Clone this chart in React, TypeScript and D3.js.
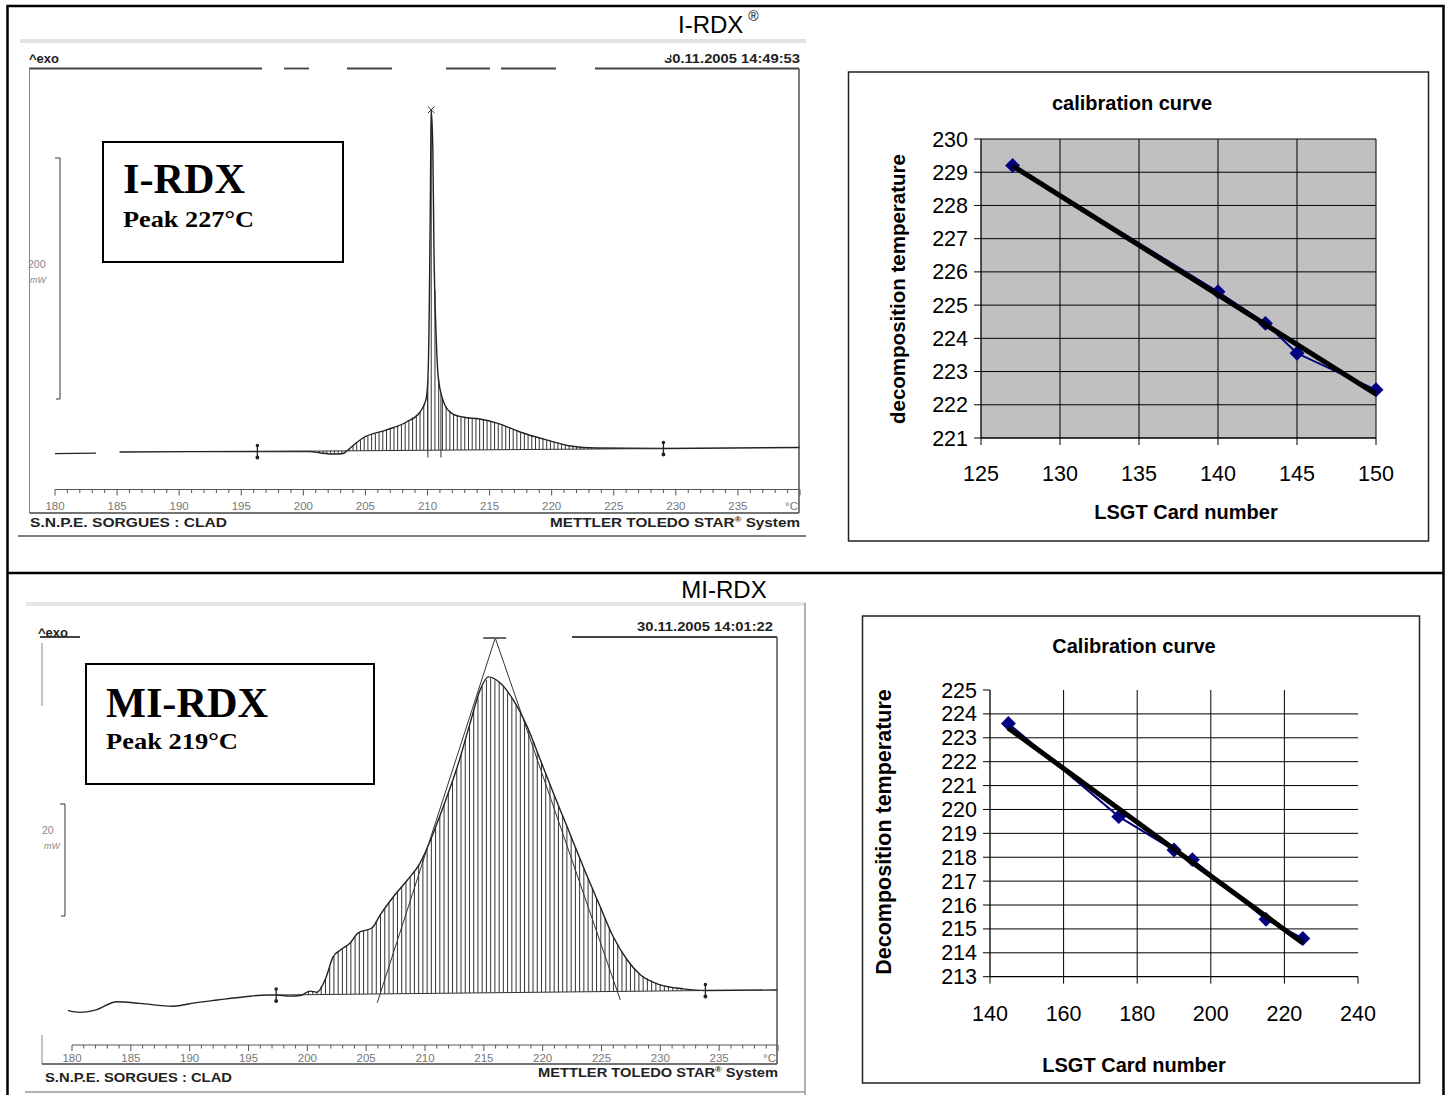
import React from 'react';
import * as d3 from 'd3';

const WIDTH = 1451;
const HEIGHT = 1095;
const SANS = "'Liberation Sans', Arial, sans-serif";
const SERIF = "'Liberation Serif', 'Times New Roman', serif";

// ---- I-RDX DSC trace: temperature (°C) / heat flow above zero (mW) ----
const irdxLeadTemp = [180, 183.3];
const irdxLeadFlow = [-1.3, -1.0];
const irdxTemp = [185.2, 196.3, 200.5, 201.5, 202.5, 203.2, 203.5, 204.15, 204.8, 206.7, 208.3, 209.4, 209.87, 210.03, 210.15, 210.23, 210.3, 210.43, 210.52, 210.68, 210.84, 211.08, 211.4, 212.05, 212.85, 214.2, 215.6, 217.45, 219.6, 221.5, 223.6, 229, 240];
const irdxFlow = [0, 0.4, 0.4, -1.0, -1.7, -1.2, 0.8, 6.6, 11.6, 18.3, 24.9, 33.2, 43.2, 59.8, 126, 209, 284, 251, 168, 101, 65, 49, 39, 31.5, 29, 27.4, 24, 16.6, 10, 5, 3.3, 2.9, 3.7];
const irdxBaseTemp = [196.3, 229];
const irdxBaseFlow = [0.4, 2.9];
const irdxPeakLines = [210.03, 211.08];

// ---- MI-RDX DSC trace ----
const mirdxTemp = [179.66, 180.68, 181.96, 183.83, 185.78, 188.59, 190.46, 192.33, 194.71, 196.58, 197.35, 198.54, 199.39, 200.24, 200.83, 201.51, 202.19, 202.79, 203.64, 204.32, 205.51, 206.19, 207.3, 208.49, 209.59, 210.7, 211.55, 212.74, 213.84, 214.69, 215.37, 216.39, 217.5, 218.69, 219.8, 220.9, 222.09, 223.45, 224.9, 226.0, 227.19, 228.3, 230.0, 231.96, 233.83, 239.95];
const mirdxFlow = [-2.8, -3.1, -2.7, -1.2, -1.5, -2.0, -1.4, -0.9, -0.3, 0, 0, -0.2, -0.1, 0.7, 0.5, 2.7, 6.8, 8.0, 9.3, 11.1, 12.0, 14.3, 17.5, 20.5, 23.6, 28.9, 33.6, 40.7, 48.6, 54.5, 56.8, 55.7, 52.7, 47.9, 42.0, 36.1, 30.0, 22.9, 15.7, 10.4, 6.25, 3.6, 1.8, 1.1, 0.8, 0.9];
const mirdxBaseTemp = [197.35, 233.83];
const mirdxBaseFlow = [0, 0.8];
const mirdxTangentTemp = [205.94, 215.97, 226.6];
const mirdxTangentFlow = [-1.4, 63.75, -0.9];

const rulerLabels = d3.range(180, 240, 5);

// ---- calibration curves ----
const irdxCards = [127, 140, 143, 145, 150];
const irdxDecomp = [229.2, 225.4, 224.45, 223.55, 222.45];
const irdxCardTicks = [125, 130, 135, 140, 145, 150];
const irdxTempTicks = d3.range(221, 231);

const mirdxCards = [145, 175, 190, 195, 215, 225];
const mirdxDecomp = [223.6, 219.7, 218.3, 217.9, 215.4, 214.6];
const mirdxCardTicks = [140, 160, 180, 200, 220, 240];
const mirdxTempTicks = d3.range(213, 226);

// least-squares trend line
const fit = (xs: number[], ys: number[]) => {
  const mx = d3.mean(xs) as number;
  const my = d3.mean(ys) as number;
  const sxy = d3.sum(xs, (v, i) => (v - mx) * (ys[i] - my));
  const sxx = d3.sum(xs, v => (v - mx) ** 2);
  const slope = sxy / sxx;
  return (v: number) => my + slope * (v - mx);
};

const DscPanel = ({ c }: { c: any }) => {
  const x = d3.scaleLinear().domain([180, 240]).range(c.xRange);
  const y = d3.scaleLinear().domain([0, c.mw]).range([c.yZero, c.yZero - c.mwPx]);
  const flowAt = d3.scaleLinear().domain(c.temp).range(c.flow);
  const baseAt = d3.scaleLinear().domain(c.baseTemp).range(c.baseFlow);
  const line = d3.line<[number, number]>()
    .x(d => x(d[0]))
    .y(d => y(d[1]))
    .curve(d3.curveMonotoneX);
  const hatch = d3.range(c.hatch[0], c.hatch[1], c.hatch[2])
    .map(t => ({ t, top: flowAt(t), base: baseAt(t) }))
    .filter(d => Math.abs(d.top - d.base) > 0.35);
  const f = c.frame;
  return (
    <g>
      {hatch.map((d, i) => (
        <line key={i} x1={x(d.t)} x2={x(d.t)} y1={y(d.base)} y2={y(d.top)} stroke="#333" strokeWidth={1} />
      ))}
      {c.lead && <path d={line(d3.zip(c.lead[0], c.lead[1]) as any) || ''} fill="none" stroke="#222" strokeWidth={1.3} />}
      <path d={line(d3.zip(c.temp, c.flow) as any) || ''} fill="none" stroke="#222" strokeWidth={1.4} />
      <line x1={x(c.baseTemp[0])} x2={x(c.baseTemp[1])} y1={y(c.baseFlow[0])} y2={y(c.baseFlow[1])} stroke="#333" strokeWidth={1} />
      {c.baseTemp.map((t: number, i: number) => (
        <g key={i} stroke="#222" strokeWidth={1.3}>
          <line x1={x(t)} x2={x(t)} y1={y(c.baseFlow[i]) - 7} y2={y(c.baseFlow[i]) + 7} />
          <circle cx={x(t)} cy={y(c.baseFlow[i]) + 6} r={1.3} fill="#222" />
          <circle cx={x(t)} cy={y(c.baseFlow[i]) - 6} r={1.1} fill="#222" />
        </g>
      ))}
      {c.peakLines && c.peakLines.map((t: number, i: number) => (
        <line key={i} x1={x(t)} x2={x(t)} y1={y(c.baseFlow[0]) + 6} y2={y(flowAt(t))} stroke="#333" strokeWidth={1} />
      ))}
      {c.peakMark && (
        <path transform={`translate(${x(c.peakMark[0])},${y(c.peakMark[1])})`}
          d={d3.symbol(d3.symbolTimes, 30)() || ''} fill="none" stroke="#333" strokeWidth={1} />
      )}
      {c.tangent && (
        <g stroke="#333" strokeWidth={1} fill="none">
          <path d={d3.line<[number, number]>().x(d => x(d[0])).y(d => y(d[1]))(d3.zip(c.tangent[0], c.tangent[1]) as any) || ''} />
          <line x1={x(c.tangent[0][1]) - 12} x2={x(c.tangent[0][1]) + 11} y1={y(c.tangent[1][1])} y2={y(c.tangent[1][1])} strokeWidth={2} stroke="#666" />
        </g>
      )}
      {/* frame */}
      <g stroke="#444" fill="none">
        {c.topSegments.map((s: number[], i: number) => (
          <line key={i} x1={s[0]} x2={s[1]} y1={f.top} y2={f.top} strokeWidth={1.8} />
        ))}
        {c.leftSegments.map((s: number[], i: number) => (
          <line key={i} x1={f.left} x2={f.left} y1={s[0]} y2={s[1]} strokeWidth={1} stroke="#888" />
        ))}
        <line x1={f.right} x2={f.right} y1={f.top} y2={f.bottom} strokeWidth={1.4} />
        <line x1={f.left} x2={f.right} y1={f.bottom} y2={f.bottom} strokeWidth={1.4} />
        <line x1={x(180)} x2={f.right} y1={c.rulerY} y2={c.rulerY} strokeWidth={1.2} stroke="#555" />
      </g>
      {d3.range(180, 241).map(t => (
        <line key={t} x1={x(t)} x2={x(t)} y1={c.rulerY} y2={c.rulerY + (t % 5 === 0 ? 6 : 3.5)} stroke="#555" strokeWidth={1} />
      ))}
      <g fontFamily={SANS} fontSize={11.5} fill="#777" textAnchor="middle">
        {rulerLabels.map(t => (
          <text key={t} x={x(t)} y={c.labelY}>{t}</text>
        ))}
        <text x={f.right - 1} y={c.labelY} textAnchor="end">°C</text>
      </g>
      {/* vertical scale bar */}
      <g stroke="#555" strokeWidth={1.2}>
        <line x1={c.bar.x} x2={c.bar.x} y1={c.bar.top} y2={c.bar.bottom} />
        <line x1={c.bar.x - 5} x2={c.bar.x} y1={c.bar.top} y2={c.bar.top} />
        <line x1={c.bar.x - 4} x2={c.bar.x} y1={c.bar.bottom} y2={c.bar.bottom} />
      </g>
      <g fontFamily={SANS} fontSize={10.5} fill="#888">
        <text x={c.bar.lx} y={c.bar.ly}>{c.bar.label}</text>
        <text x={c.bar.lx + 2} y={c.bar.ly + 15} fontSize={9} fontStyle="italic">mW</text>
      </g>
      {/* header & footer texts */}
      <g fontFamily={SANS} fontWeight="bold" fill="#222">
        <text x={c.exo[0]} y={c.exo[1]} fontSize={13}>^exo</text>
        <text x={c.date.x} y={c.date.y} fontSize={13} textAnchor="end" textLength={136} lengthAdjust="spacingAndGlyphs">{c.date.text}</text>
        <text x={c.footLeft.x} y={c.footLeft.y} fontSize={13} textLength={c.footLeft.len} lengthAdjust="spacingAndGlyphs">S.N.P.E. SORGUES : CLAD</text>
        <text x={c.footRight.x - c.footRight.len} y={c.footRight.y} fontSize={13} textLength={c.footRight.len} lengthAdjust="spacingAndGlyphs">
          METTLER TOLEDO STAR<tspan fontSize={8} dy={-5}>®</tspan><tspan dy={5}> System</tspan>
        </text>
      </g>
      {c.dateMask && <rect x={c.dateMask[0]} y={c.dateMask[1]} width={c.dateMask[2]} height={c.dateMask[3]} fill="#fff" />}
      {/* label box */}
      <rect x={c.box.x} y={c.box.y} width={c.box.w} height={c.box.h} fill="#fff" stroke="#000" strokeWidth={2} />
      <g fontFamily={SERIF} fontWeight="bold" fill="#000">
        <text x={c.box.tx} y={c.box.nameY} fontSize={c.box.nameSize} textLength={c.box.nameLen} lengthAdjust="spacingAndGlyphs">{c.box.name}</text>
        <text x={c.box.tx} y={c.box.peakY} fontSize={23} textLength={c.box.peakLen} lengthAdjust="spacingAndGlyphs">{c.box.peak}</text>
      </g>
    </g>
  );
};

const irdxPanel = {
  xRange: [55, 800], yZero: 452, mw: 200, mwPx: 241,
  temp: irdxTemp, flow: irdxFlow, lead: [irdxLeadTemp, irdxLeadFlow],
  baseTemp: irdxBaseTemp, baseFlow: irdxBaseFlow,
  hatch: [201.3, 227, 0.3],
  peakLines: irdxPeakLines, peakMark: [210.3, 284],
  frame: { left: 29.5, right: 799, top: 68.5, bottom: 513 },
  topSegments: [[29, 262], [284, 309], [347, 392], [446, 490], [501, 556], [595, 799]],
  leftSegments: [[68.5, 513]],
  rulerY: 489.5, labelY: 510,
  bar: { x: 60, top: 158, bottom: 399, label: '200', lx: 28, ly: 268 },
  exo: [29, 63],
  date: { text: '30.11.2005 14:49:53', x: 800, y: 63 },
  dateMask: [660, 48, 10, 10],
  footLeft: { x: 30, y: 527, len: 197 },
  footRight: { x: 800, y: 527, len: 250 },
  box: { x: 103, y: 142, w: 240, h: 120, tx: 123, name: 'I-RDX', nameSize: 42, nameY: 193, nameLen: 122, peak: 'Peak 227°C', peakY: 227, peakLen: 131 },
};

const mirdxPanel = {
  xRange: [72, 778], yZero: 995, mw: 20, mwPx: 112,
  temp: mirdxTemp, flow: mirdxFlow, lead: null,
  baseTemp: mirdxBaseTemp, baseFlow: mirdxBaseFlow,
  hatch: [200.1, 233.8, 0.36],
  peakLines: null, peakMark: null,
  tangent: [mirdxTangentTemp, mirdxTangentFlow],
  frame: { left: 42, right: 777, top: 637, bottom: 1064 },
  topSegments: [[40, 80], [572, 777]],
  leftSegments: [[643, 706], [1035, 1064]],
  rulerY: 1045, labelY: 1062,
  bar: { x: 65, top: 804, bottom: 916, label: '20', lx: 42, ly: 834 },
  exo: [38, 637],
  date: { text: '30.11.2005 14:01:22', x: 773, y: 631 },
  dateMask: null,
  footLeft: { x: 45, y: 1082, len: 187 },
  footRight: { x: 778, y: 1077, len: 240 },
  box: { x: 86, y: 664, w: 288, h: 120, tx: 106, name: 'MI-RDX', nameSize: 43, nameY: 717, nameLen: 162, peak: 'Peak 219°C', peakY: 749, peakLen: 132 },
};

const Calibration = ({ c }: { c: any }) => {
  const x = d3.scaleLinear().domain(c.xDomain).range([c.plot.left, c.plot.right]);
  const y = d3.scaleLinear().domain(c.yDomain).range([c.plot.bottom, c.plot.top]);
  const data: [number, number][] = c.cards.map((v: number, i: number) => [v, c.temps[i]]);
  const trend = fit(c.cards, c.temps);
  const ends = d3.extent(c.cards) as [number, number];
  const line = d3.line<[number, number]>().x(d => x(d[0])).y(d => y(d[1]));
  const diamond = d3.symbol(d3.symbolSquare, 112)() || '';
  const [xMin, xMax] = c.xDomain;
  const [yMin, yMax] = c.yDomain;
  const vGrid = c.xTicks.filter((t: number) => t !== xMin && (c.fullGrid || t !== xMax));
  const hGrid = c.yTicks.filter((t: number) => t !== yMin && (c.fullGrid || t !== yMax));
  return (
    <g>
      <rect x={c.frame.x} y={c.frame.y} width={c.frame.w} height={c.frame.h} fill="#fff" stroke="#222" strokeWidth={1.5} />
      <text x={c.titleX} y={c.titleY} textAnchor="middle" fontFamily={SANS} fontWeight="bold" fontSize={20}>{c.title}</text>
      {c.fill && (
        <rect x={x(xMin)} y={y(yMax)} width={x(xMax) - x(xMin)} height={y(yMin) - y(yMax)} fill={c.fill} />
      )}
      <g stroke="#000" strokeWidth={1}>
        {vGrid.map((t: number) => (
          <line key={`v${t}`} x1={x(t)} x2={x(t)} y1={y(yMax)} y2={y(yMin)} />
        ))}
        {hGrid.map((t: number) => (
          <line key={`h${t}`} x1={x(xMin)} x2={x(xMax)} y1={y(t)} y2={y(t)} />
        ))}
        <line x1={x(xMin)} x2={x(xMin)} y1={y(yMax)} y2={y(yMin)} strokeWidth={1.3} />
        <line x1={x(xMin)} x2={x(xMax)} y1={y(yMin)} y2={y(yMin)} strokeWidth={1.3} />
        {c.yTicks.map((t: number) => (
          <line key={`yt${t}`} x1={x(xMin) - 7} x2={x(xMin)} y1={y(t)} y2={y(t)} />
        ))}
        {c.xTicks.map((t: number) => (
          <line key={`xt${t}`} x1={x(t)} x2={x(t)} y1={y(yMin)} y2={y(yMin) + 7} />
        ))}
      </g>
      <g fontFamily={SANS} fontSize={21.5} fill="#000">
        {c.yTicks.map((t: number) => (
          <text key={t} x={x(xMin) - 13} y={y(t) + 7.5} textAnchor="end">{t}</text>
        ))}
        {c.xTicks.map((t: number) => (
          <text key={t} x={x(t)} y={y(yMin) + c.xLabelGap} textAnchor="middle">{t}</text>
        ))}
      </g>
      <path d={line(data) || ''} fill="none" stroke="#000080" strokeWidth={2} />
      {data.map((d, i) => (
        <path key={i} d={diamond} transform={`translate(${x(d[0])},${y(d[1])}) rotate(45)`} fill="#000080" />
      ))}
      <line x1={x(ends[0])} x2={x(ends[1])} y1={y(trend(ends[0]))} y2={y(trend(ends[1]))} stroke="#000" strokeWidth={5} />
      <g fontFamily={SANS} fontWeight="bold" fontSize={20} fill="#000">
        <text x={c.xTitle[0]} y={c.xTitle[1]} textAnchor="middle">LSGT Card number</text>
        <text transform={`translate(${c.yTitle[0]},${c.yTitle[1]}) rotate(-90)`} textAnchor="middle" fontSize={c.yTitle[2]}>{c.yLabel}</text>
      </g>
    </g>
  );
};

const irdxCalib = {
  frame: { x: 848.5, y: 72, w: 580, h: 469 },
  title: 'calibration curve', titleX: 1132, titleY: 110,
  plot: { left: 981, right: 1376, top: 139, bottom: 438 },
  xDomain: [125, 150], yDomain: [221, 230],
  xTicks: irdxCardTicks, yTicks: irdxTempTicks,
  cards: irdxCards, temps: irdxDecomp,
  fill: '#c0c0c0', fullGrid: true, xLabelGap: 43,
  xTitle: [1186, 519], yTitle: [905, 289, 20.5], yLabel: 'decomposition temperature',
};

const mirdxCalib = {
  frame: { x: 862.5, y: 616, w: 557, h: 467 },
  title: 'Calibration curve', titleX: 1134, titleY: 653,
  plot: { left: 990, right: 1358, top: 690, bottom: 976.7 },
  xDomain: [140, 240], yDomain: [213, 225],
  xTicks: mirdxCardTicks, yTicks: mirdxTempTicks,
  cards: mirdxCards, temps: mirdxDecomp,
  fill: null, fullGrid: false, xLabelGap: 44,
  xTitle: [1134, 1072], yTitle: [891, 832, 21.5], yLabel: 'Decomposition temperature',
};

const App = () => (
  <div style={{ position: 'absolute', left: 0, top: 0 }}>
    <svg width={WIDTH} height={HEIGHT} style={{ display: 'block', background: '#fff' }}>
      {/* scan edges */}
      <line x1={20} x2={806} y1={41} y2={41} stroke="#e2e2e2" strokeWidth={4} />
      <line x1={18} x2={806} y1={536} y2={536} stroke="#555" strokeWidth={1.5} />
      <line x1={26} x2={805} y1={604} y2={604} stroke="#e6e6e6" strokeWidth={4} />
      <line x1={805} x2={805} y1={603} y2={1095} stroke="#999" strokeWidth={1.5} />
      <line x1={25} x2={805} y1={1092} y2={1092} stroke="#999" strokeWidth={1.5} />

      <DscPanel c={irdxPanel} />
      <DscPanel c={mirdxPanel} />
      <Calibration c={irdxCalib} />
      <Calibration c={mirdxCalib} />

      {/* table */}
      <rect x={7.5} y={6} width={1436} height={1100} fill="none" stroke="#000" strokeWidth={2.5} />
      <line x1={7.5} x2={1443.5} y1={573} y2={573} stroke="#000" strokeWidth={2.5} />
      <text x={678} y={33} fontFamily={SANS} fontSize={24}>I-RDX<tspan fontSize={14} dx={5} dy={-12}>®</tspan></text>
      <text x={724} y={598} textAnchor="middle" fontFamily={SANS} fontSize={24}>MI-RDX</text>
    </svg>
  </div>
);

export default App;
